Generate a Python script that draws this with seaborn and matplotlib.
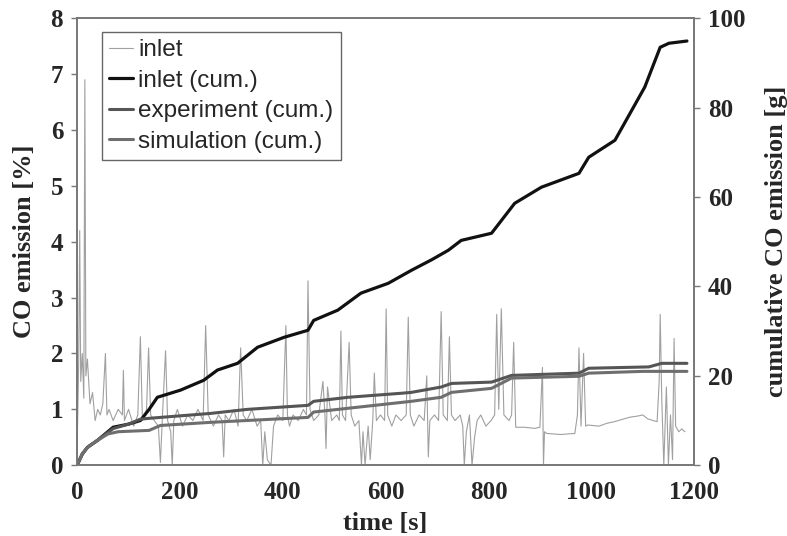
import matplotlib
matplotlib.use("Agg")
import matplotlib.pyplot as plt
import seaborn as sns

# ---- data ----
inlet_t = [0, 3, 5, 7, 10, 13, 15, 17, 20, 25, 30, 35, 40, 45, 50, 55, 58, 62, 70, 80,
           88, 90, 92, 100, 110, 118, 123, 127, 135, 139, 143, 150, 158, 162, 166, 172, 176,
           182, 185, 188, 195, 205, 215, 225, 235, 245, 250, 255, 265, 275, 282, 285, 288,
           295, 305, 313, 318, 323, 330, 340, 350, 357, 361, 365, 370, 377, 382, 390, 400,
           406, 409, 413, 420, 430, 440, 446, 449, 453, 460, 470, 478, 482, 484, 487, 495,
           505, 510, 513, 516, 522, 529, 533, 540, 548, 553, 556, 560, 566, 570, 575, 578,
           582, 590, 598, 601, 604, 612, 620, 630, 640, 644, 648, 655, 665, 675, 680, 683,
           686, 695, 703, 708, 712, 720, 724, 728, 735, 745, 750, 753, 757, 763, 768, 773,
           778, 785, 795, 805, 812, 816, 820, 825, 830, 840, 845, 849, 853, 870, 890, 900,
           905, 907, 909, 913, 940, 968, 973, 976, 980, 985, 989, 993, 1015, 1030, 1045,
           1060, 1075, 1090, 1100, 1110, 1120, 1128, 1132, 1134, 1137, 1141, 1146, 1150,
           1154, 1158, 1161, 1164, 1170, 1176, 1182]
inlet_v = [0.3, 1.8, 4.2, 1.5, 2.0, 1.2, 6.9, 1.6, 1.9, 1.1, 1.3, 0.8, 1.0, 0.9, 1.1, 2.0, 0.9, 1.0, 0.8, 1.0,
           0.9, 1.7, 0.8, 1.0, 0.7, 0.9, 2.3, 0.8, 1.0, 2.1, 0.9, 0.8, 0.7, 0.05, 0.9, 2.05, 0.8,
           0.6, 0.0, 0.8, 1.0, 0.7, 0.9, 0.8, 1.0, 0.8, 2.5, 0.9, 0.7, 0.9, 0.8, 0.15, 0.9,
           0.8, 1.0, 0.7, 2.1, 0.9, 0.8, 1.0, 0.7, 0.8, 0.0, 0.6, 0.1, 0.0, 0.7, 0.9, 0.8,
           2.5, 0.9, 0.7, 0.9, 0.8, 1.0, 0.9, 3.3, 1.0, 0.8, 0.9, 1.5, 0.9, 0.3, 1.4, 0.8,
           0.9, 0.8, 2.4, 0.9, 0.8, 2.2, 0.9, 0.7, 0.8, 0.0, 0.6, 0.0, 0.7, 0.1, 0.8, 1.65,
           0.8, 0.9, 0.8, 2.8, 0.9, 0.7, 0.9, 0.8, 0.9, 2.65, 0.9, 0.7, 0.9, 0.8, 1.6, 0.15,
           0.8, 0.9, 0.8, 2.75, 0.9, 0.8, 2.3, 0.9, 0.8, 0.9, 0.7, 0.0, 0.6, 0.9, 0.0, 0.5,
           0.8, 0.9, 0.7, 0.8, 0.9, 2.7, 1.0, 2.8, 0.9, 0.8, 0.9, 2.2, 0.68, 0.68, 0.66, 0.68,
           1.75, 0.0, 0.6, 0.57, 0.55, 0.57, 0.9, 2.1, 0.7, 2.0, 0.7, 0.72, 0.7, 0.75, 0.78,
           0.82, 0.86, 0.88, 0.9, 0.83, 0.8, 0.78, 1.5, 2.7, 1.2, 0.0, 1.4, 0.0,
           0.9, 0.1, 2.27, 0.7, 0.6, 0.65, 0.6]

cum_inlet_t = [0, 10, 20, 40, 70, 100, 123, 140, 156, 201, 246, 273, 312, 351, 402, 449, 460,
               507, 552, 605, 650, 690, 722, 747, 806, 851, 903, 976, 995, 1046, 1104, 1134,
               1151, 1186]
cum_inlet_v = [0, 2.5, 4.0, 5.6, 8.5, 9.2, 10.0, 12.5, 15.2, 16.8, 19.0, 21.3, 22.8, 26.4, 28.6,
               30.2, 32.4, 34.7, 38.5, 40.7, 43.6, 46.0, 48.1, 50.3, 51.9, 58.6, 62.2, 65.3,
               68.9, 72.7, 84.6, 93.5, 94.4, 94.9]

cum_exp_t = [0, 10, 20, 40, 70, 100, 123, 140, 260, 331, 449, 460, 527, 630, 650, 708, 728,
             806, 845, 976, 995, 1112, 1137, 1186]
cum_exp_v = [0, 2.5, 4.0, 5.6, 8.2, 9.2, 10.3, 10.5, 11.6, 12.5, 13.4, 14.3, 15.2, 16.1, 16.3,
             17.5, 18.3, 18.6, 20.1, 20.6, 21.7, 22.0, 22.8, 22.8]

cum_sim_t = [0, 10, 20, 40, 60, 80, 140, 162, 260, 449, 460, 650, 708, 728, 806, 845, 976,
             995, 1100, 1186]
cum_sim_v = [0, 2.5, 4.0, 5.6, 7.0, 7.5, 7.8, 8.9, 9.6, 10.7, 11.9, 14.3, 15.2, 16.3, 17.2,
             19.5, 19.9, 20.6, 21.0, 21.0]

labels = ["inlet", "inlet (cum.)", "experiment (cum.)", "simulation (cum.)"]

# ---- plot ----
sns.set_style("white")
plt.rcParams["font.family"] = ["Liberation Serif", "DejaVu Serif"]

fig = plt.figure(figsize=(7.87, 5.36), dpi=100)
ax = fig.add_axes([0.098, 0.132, 0.784, 0.834])
ax2 = ax.twinx()

sns.lineplot(x=inlet_t, y=inlet_v, ax=ax, color="#a0a0a0", lw=0.8, label=labels[0],
             legend=False)
sns.lineplot(x=cum_inlet_t, y=cum_inlet_v, ax=ax2, color="#111111", lw=2.3,
             label=labels[1], legend=False)
sns.lineplot(x=cum_exp_t, y=cum_exp_v, ax=ax2, color="#555555", lw=2.2,
             label=labels[2], legend=False)
sns.lineplot(x=cum_sim_t, y=cum_sim_v, ax=ax2, color="#6e6e6e", lw=2.2,
             label=labels[3], legend=False)

ax.set_xlim(0, 1200)
ax.set_ylim(0, 8)
ax2.set_ylim(0, 100)
ax.set_xticks(range(0, 1201, 200))
ax.set_yticks(range(0, 9))
ax2.set_yticks(range(0, 101, 20))

for a in (ax, ax2):
    for s in a.spines.values():
        s.set_color("#777777")
        s.set_linewidth(1.2)

ax.tick_params(axis="y", direction="out", length=4, width=1, color="#777777", pad=6)
ax.tick_params(axis="x", direction="inout", length=6, width=1, color="#777777", pad=8)
ax2.tick_params(axis="y", direction="out", length=4, width=1, color="#777777", pad=6)
for lab in ax.get_xticklabels() + ax.get_yticklabels() + ax2.get_yticklabels():
    lab.set_fontsize(18)
    lab.set_fontweight("bold")

ax.set_xlabel("time [s]", fontsize=19, fontweight="bold", labelpad=6)
ax.set_ylabel("CO emission [%]", fontsize=19, fontweight="bold")
ax.yaxis.set_label_coords(-0.067, 0.5)
ax2.set_ylabel("cumulative CO emission [g]", fontsize=19, fontweight="bold", labelpad=14)

h1, l1 = ax.get_legend_handles_labels()
h2, l2 = ax2.get_legend_handles_labels()
leg = ax2.legend(h1 + h2, l1 + l2, loc="upper left", bbox_to_anchor=(0.04, 0.969),
                 frameon=True, fancybox=False, edgecolor="#666666", framealpha=1,
                 prop={"family": "Liberation Sans", "size": 17.5},
                 handlelength=1.0, handletextpad=0.2, labelspacing=0.35,
                 borderpad=0.3, borderaxespad=0)
leg.get_frame().set_linewidth(1.0)

fig.savefig("out.png", dpi=100)
